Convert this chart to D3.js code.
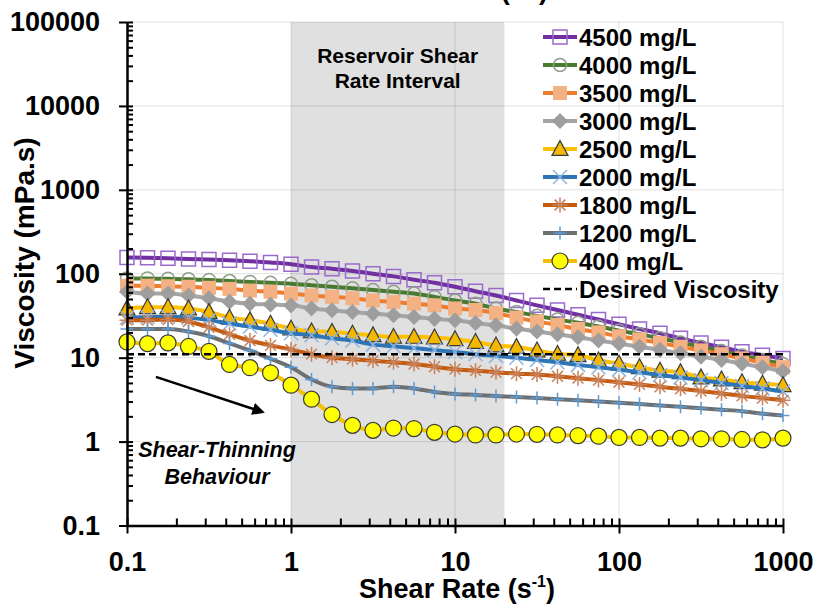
<!DOCTYPE html>
<html>
<head>
<meta charset="utf-8">
<script src="https://cdn.jsdelivr.net/npm/d3@7"></script>
<style>
  body { margin: 0; background: #fff; }
  svg { display: block; }
  text { font-family: "Liberation Sans", Arial, sans-serif; font-weight: bold; fill: #000; }
</style>
</head>
<body>
<svg id="chart" width="817" height="609"></svg>
<script>
// Shear rate sampling grid (s^-1), 8 points per decade
const shearRate = [0.1, 0.1334, 0.1778, 0.2371, 0.3162, 0.4217, 0.5623, 0.7499,
  1, 1.334, 1.778, 2.371, 3.162, 4.217, 5.623, 7.499,
  10, 13.34, 17.78, 23.71, 31.62, 42.17, 56.23, 74.99,
  100, 133.4, 177.8, 237.1, 316.2, 421.7, 562.3, 749.9, 1000];

// Viscosity (mPa.s) per polymer concentration
const visc4500 = [156, 155, 153, 150, 148, 145, 141, 136, 130, 120, 115, 108, 100, 93, 85, 78,
  70, 62, 55, 48, 42, 37, 32.5, 28.5, 25, 22, 19.5, 17, 15, 13.3, 11.8, 10.7, 9.8];
const visc4000 = [88, 88, 87, 86, 84, 82, 80, 78, 76, 73, 70, 67, 64, 61, 58, 53,
  48, 44, 38.5, 35, 31.5, 28.5, 26, 23.5, 21, 19, 17, 15.2, 13.5, 12, 10.6, 9.4, 8.4];
const visc3500 = [72, 72, 71, 70, 68, 66, 63, 61, 58, 55, 53, 51, 48, 46, 44, 42,
  38.5, 37, 34, 30, 27, 24.5, 22, 20, 18, 16.5, 15, 13.5, 12.2, 11, 9.8, 8.7, 7.7];
const visc3000 = [61, 58, 58, 55, 51, 46.5, 44, 43, 42, 38.5, 36.7, 35, 33.5, 32, 30.5, 29,
  27.9, 25.9, 24.3, 22.2, 20.5, 19, 17.5, 16, 14.7, 13.5, 12.4, 11.3, 10.3, 9.4, 8.5, 7.7, 6.9];
const visc2500 = [38.5, 40, 40, 38.5, 35, 30, 27.9, 25.4, 22.2, 20.6, 20.3, 19.3, 18.5, 17.7, 17.7, 17.4,
  16.6, 15.4, 14, 13.4, 12.2, 11.1, 10.7, 9.3, 8.5, 7.7, 7.0, 6.7, 5.8, 5.5, 5.1, 4.9, 4.7];
const visc2000 = [30, 30.5, 31, 30, 28, 25.5, 23.5, 21.5, 19.5, 18.5, 17, 16, 14.3, 13.7, 13, 12.3,
  11.7, 11, 10.5, 10, 9.4, 8.8, 8.2, 7.7, 7.2, 6.7, 6.2, 5.8, 5.4, 5.0, 4.6, 4.3, 3.95];
const visc1800 = [28, 28, 28.5, 27, 23, 19, 16, 14, 12.5, 11, 10, 9.6, 9.2, 8.8, 8.4, 7.8,
  7.3, 7.0, 6.7, 6.45, 6.3, 6.0, 5.7, 5.4, 5.1, 4.8, 4.5, 4.25, 4.0, 3.75, 3.5, 3.3, 3.1];
const visc1200 = [22, 22, 22, 20.5, 18, 14.8, 12.2, 9.7, 7.7, 5.5, 4.5, 4.3, 4.3, 4.5, 4.3, 3.9,
  3.7, 3.6, 3.5, 3.4, 3.3, 3.2, 3.1, 3.0, 2.9, 2.8, 2.7, 2.6, 2.5, 2.4, 2.3, 2.15, 2.05];
const visc400 = [15.4, 14.7, 15, 13.6, 11.9, 8.3, 7.6, 6.6, 4.7, 3.2, 2.1, 1.56, 1.36, 1.45, 1.43, 1.29,
  1.23, 1.2, 1.2, 1.23, 1.22, 1.2, 1.18, 1.16, 1.12, 1.12, 1.1, 1.1, 1.08, 1.08, 1.06, 1.05, 1.1];

const seriesNames = ["4500 mg/L", "4000 mg/L", "3500 mg/L", "3000 mg/L", "2500 mg/L",
  "2000 mg/L", "1800 mg/L", "1200 mg/L", "400 mg/L"];
const desiredViscosity = 11;
const desiredLabel = "Desired Viscosity";

const reservoirInterval = [1, 20];
const xTickValues = [0.1, 1, 10, 100, 1000];
const yTickValues = [0.1, 1, 10, 100, 1000, 10000, 100000];

// Annotation anchor points in data units
const arrowFrom = [0.15, 5.9];
const arrowTo = [0.67, 2.25];

// ---- styles for each series ----
const styles = [
  { data: visc4500, line: "#7030A0", shape: "square", size: 14, fill: "none", stroke: "#9A6ACD", sw: 1.5 },
  { data: visc4000, line: "#4A7A30", shape: "circle", size: 13, fill: "none", stroke: "#8E9E88", sw: 1.5 },
  { data: visc3500, line: "#ED7D31", shape: "square", size: 14, fill: "#F4B183", stroke: "none", sw: 0 },
  { data: visc3000, line: "#A5A5A5", shape: "diamond", size: 14, fill: "#9E9E9E", stroke: "none", sw: 0 },
  { data: visc2500, line: "#FFC000", shape: "triangle", size: 16, fill: "#F5B800", stroke: "#3A3A3A", sw: 1.2 },
  { data: visc2000, line: "#2E75B6", shape: "times", size: 14, fill: "none", stroke: "#8DB4E2", sw: 1.5 },
  { data: visc1800, line: "#C55A11", shape: "asterisk", size: 15, fill: "none", stroke: "#C8825A", sw: 1.5 },
  { data: visc1200, line: "#6D6F73", shape: "plus", size: 13, fill: "none", stroke: "#5B9BD5", sw: 1.5 },
  { data: visc400, line: "#F2C200", shape: "circle", size: 16, fill: "#FFFF00", stroke: "#3A3A3A", sw: 1.2 },
];

const svg = d3.select("#chart");
const plotLeft = 127, plotRight = 783, plotTop = 22, plotBottom = 525.5;

const x = d3.scaleLog().domain([0.1, 1000]).range([plotLeft, plotRight]);
const y = d3.scaleLog().domain([0.1, 100000]).range([plotBottom, plotTop]);

// marker path builder (centered at 0,0); size = full width in px
function markerPath(shape, s) {
  const h = s / 2;
  switch (shape) {
    case "square": return `M${-h},${-h}H${h}V${h}H${-h}Z`;
    case "diamond": return `M0,${-h * 1.15}L${h * 1.15},0L0,${h * 1.15}L${-h * 1.15},0Z`;
    case "triangle": return `M0,${-h * 1.05}L${h},${h * 0.8}L${-h},${h * 0.8}Z`;
    case "circle": return d3.symbol(d3.symbolCircle, Math.PI * h * h)();
    case "times": return `M${-h},${-h}L${h},${h}M${h},${-h}L${-h},${h}`;
    case "plus": return `M0,${-h}V${h}M${-h},0H${h}`;
    case "asterisk": return `M0,${-h}V${h}M${-h},0H${h}M${-h * 0.72},${-h * 0.72}L${h * 0.72},${h * 0.72}M${h * 0.72},${-h * 0.72}L${-h * 0.72},${h * 0.72}`;
  }
}

// ---- reservoir shear-rate band ----
svg.append("rect")
  .attr("x", x(reservoirInterval[0]))
  .attr("y", plotTop)
  .attr("width", x(reservoirInterval[1]) - x(reservoirInterval[0]))
  .attr("height", plotBottom - plotTop)
  .attr("fill", "#E0E0E0");

// ---- gridlines at decades ----
const grid = svg.append("g").attr("stroke", "rgba(0,0,0,0.12)").attr("stroke-width", 1);
grid.selectAll(".gx").data(xTickValues.slice(1)).join("line")
  .attr("x1", d => x(d)).attr("x2", d => x(d)).attr("y1", plotTop).attr("y2", plotBottom);
grid.selectAll(".gy").data(yTickValues.slice(1)).join("line")
  .attr("x1", plotLeft).attr("x2", plotRight).attr("y1", d => y(d)).attr("y2", d => y(d));

// band label
const bandCx = x(Math.sqrt(reservoirInterval[0] * reservoirInterval[1]));
svg.append("text").attr("x", bandCx).attr("y", 63).attr("text-anchor", "middle")
  .attr("font-size", 21).text("Reservoir Shear");
svg.append("text").attr("x", bandCx).attr("y", 88).attr("text-anchor", "middle")
  .attr("font-size", 21).text("Rate Interval");

// ---- series ----
const lineGen = d3.line().x(d => x(d[0])).y(d => y(d[1])).curve(d3.curveMonotoneX);
styles.forEach((s, k) => {
  const pts = shearRate.map((r, i) => [r, s.data[i]]);
  const g = svg.append("g").attr("class", "series-" + k);
  g.append("path").datum(pts).attr("d", lineGen)
    .attr("fill", "none").attr("stroke", s.line).attr("stroke-width", 4)
    .attr("stroke-linejoin", "round");
  g.selectAll("path.m").data(pts).join("path").attr("class", "m")
    .attr("transform", d => `translate(${x(d[0])},${y(d[1])})`)
    .attr("d", markerPath(s.shape, s.size))
    .attr("fill", s.fill).attr("stroke", s.stroke).attr("stroke-width", s.sw);
});

// desired viscosity reference line
svg.append("line")
  .attr("x1", x(0.1)).attr("x2", x(1000))
  .attr("y1", y(desiredViscosity)).attr("y2", y(desiredViscosity))
  .attr("stroke", "#000").attr("stroke-width", 2.5).attr("stroke-dasharray", "7,4");

// ---- axes ----
const fmt = d => String(d);
const styleLabels = g => g.selectAll("text").attr("font-size", 27)
  .attr("font-family", '"Liberation Sans", Arial, sans-serif').attr("font-weight", "bold");
// x: labelled majors below, majors+minors pointing inward
svg.append("g").attr("transform", `translate(0,${plotBottom})`)
  .call(d3.axisBottom(x).tickValues(xTickValues).tickFormat(fmt).tickSizeInner(8).tickSizeOuter(0).tickPadding(18))
  .call(styleLabels)
  .call(g => g.selectAll("line").attr("stroke", "#000").attr("stroke-width", 2))
  .call(g => g.select(".domain").attr("stroke", "#000").attr("stroke-width", 2.5));
svg.append("g").attr("transform", `translate(0,${plotBottom})`)
  .call(d3.axisTop(x).tickValues(x.ticks()).tickFormat("").tickSizeInner(7).tickSizeOuter(0))
  .call(g => g.select(".domain").remove())
  .call(g => g.selectAll("line").attr("stroke", "#000").attr("stroke-width", 2));

svg.append("g").attr("transform", `translate(${plotLeft},0)`)
  .call(d3.axisLeft(y).tickValues(yTickValues).tickFormat(fmt).tickSizeInner(8).tickSizeOuter(0).tickPadding(19))
  .call(styleLabels)
  .call(g => g.selectAll("line").attr("stroke", "#000").attr("stroke-width", 2))
  .call(g => g.select(".domain").attr("stroke", "#000").attr("stroke-width", 2.5));
svg.append("g").attr("transform", `translate(${plotLeft},0)`)
  .call(d3.axisRight(y).tickValues(y.ticks()).tickFormat("").tickSizeInner(6).tickSizeOuter(0))
  .call(g => g.select(".domain").remove())
  .call(g => g.selectAll("line").attr("stroke", "#000").attr("stroke-width", 2));

// ---- titles ----
function shearTitle(sel) {
  sel.append("tspan").text("Shear Rate (s");
  sel.append("tspan").attr("font-size", 16).attr("dy", -11).text("-1");
  sel.append("tspan").attr("dy", 11).text(")");
}
svg.append("text").attr("x", 457).attr("y", 598).attr("text-anchor", "middle")
  .attr("font-size", 27).call(shearTitle);
// secondary title along the top edge, largely beyond the frame
svg.append("text").attr("x", 450).attr("y", -1).attr("text-anchor", "middle")
  .attr("font-size", 27).call(shearTitle);
svg.append("text").attr("transform", "translate(34,253) rotate(-90)")
  .attr("text-anchor", "middle").attr("font-size", 28).text("Viscosity (mPa.s)");

// ---- shear-thinning annotation ----
svg.append("defs").append("marker").attr("id", "arrowHead")
  .attr("viewBox", "0 0 10 10").attr("refX", 8).attr("refY", 5)
  .attr("markerWidth", 5).attr("markerHeight", 5).attr("orient", "auto")
  .append("path").attr("d", "M0,0L10,5L0,10Z").attr("fill", "#000");
svg.append("line")
  .attr("x1", x(arrowFrom[0])).attr("y1", y(arrowFrom[1]))
  .attr("x2", x(arrowTo[0])).attr("y2", y(arrowTo[1]))
  .attr("stroke", "#000").attr("stroke-width", 2.5).attr("marker-end", "url(#arrowHead)");
svg.append("text").attr("x", 217).attr("y", 457).attr("text-anchor", "middle")
  .attr("font-size", 21.5).attr("font-style", "italic").text("Shear-Thinning");
svg.append("text").attr("x", 217).attr("y", 484).attr("text-anchor", "middle")
  .attr("font-size", 21.5).attr("font-style", "italic").text("Behaviour");

// ---- legend ----
const legend = svg.append("g");
const rowY = i => 37 + i * 28;
styles.forEach((s, i) => {
  const g = legend.append("g").attr("transform", `translate(0,${rowY(i)})`);
  g.append("line").attr("x1", 543).attr("x2", 577).attr("y1", 0).attr("y2", 0)
    .attr("stroke", s.line).attr("stroke-width", 4);
  g.append("path").attr("transform", "translate(560,0)")
    .attr("d", markerPath(s.shape, s.size))
    .attr("fill", s.fill).attr("stroke", s.stroke).attr("stroke-width", s.sw);
  g.append("text").attr("x", 579).attr("y", 8.6).attr("font-size", 24).text(seriesNames[i]);
});
{
  const g = legend.append("g").attr("transform", `translate(0,${rowY(9)})`);
  g.append("line").attr("x1", 543).attr("x2", 577).attr("y1", 0).attr("y2", 0)
    .attr("stroke", "#000").attr("stroke-width", 2.5).attr("stroke-dasharray", "7,4");
  g.append("text").attr("x", 579).attr("y", 8.6).attr("font-size", 24).text(desiredLabel);
}
</script>
</body>
</html>
